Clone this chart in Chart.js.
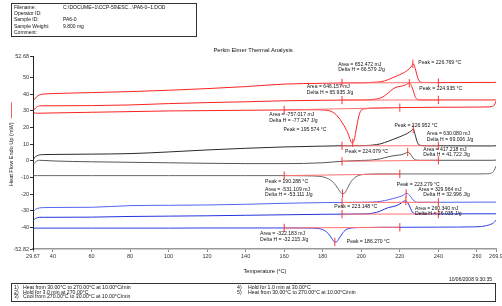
<!DOCTYPE html>
<html><head><meta charset="utf-8">
<script src="https://cdn.jsdelivr.net/npm/chart.js@4.4.1/dist/chart.umd.min.js"></script>
<style>html,body{margin:0;padding:0;background:#fff;}canvas{display:block;}</style>
</head><body>
<canvas id="c" width="502" height="306" style="width:502px;height:306px"></canvas>
<script>
// ---------- DATA ----------
const heatT = [30,31,33,35,40,60,80,100,120,140,160,180,190,200,205,208,210,212,214,216,218,220,221,222,223,224,225,226,227,228,229,230,232,235,240,260,268,270];
const coolT = [30,32,40,60,80,100,120,140,160,170,175,178,180,182,183,184,185,186,187,188,189,190,191,192,193,194,195,196,197,198,199,200,202,205,210,220,240,260,265,268,269,270];

// red run
const redHeat2 = [36.5,37.8,39.6,40.1,40.4,41.0,41.6,42.4,43.4,44.6,46.1,46.6,46.8,46.9,47.1,47.3,47.5,48.0,48.8,49.8,50.8,51.8,52.3,52.9,53.6,54.4,55.4,56.8,58.3,55.5,51.0,48.0,47.1,47.0,47.0,47.1,47.1,47.2];
const redHeat1 = [30.5,31.8,33.0,33.1,33.1,33.2,33.6,34.4,35.0,35.5,36.1,36.4,36.5,36.6,36.8,37.2,37.8,39.0,40.8,42.8,44.2,44.7,44.9,45.2,45.7,46.3,46.6,45.2,42.0,38.5,37.0,36.7,36.6,36.6,36.6,36.6,36.6,36.6];
const redCool  = [29.0,28.6,28.8,29.2,29.6,30.0,30.2,30.4,30.6,30.7,30.7,30.7,30.6,30.4,30.2,29.9,29.4,28.7,27.7,26.4,24.9,23.2,21.3,19.2,16.9,13.6,10.9,11.4,16.5,23.0,28.0,30.6,31.3,31.6,31.8,32.0,32.2,32.3,32.4,32.7,33.5,36.0];
// black run
const blackHeatA = [1.2,2.6,3.6,3.8,3.9,4.1,4.4,5.4,6.6,7.6,8.4,8.9,9.1,9.2,9.4,9.8,10.3,11.0,11.8,12.7,13.6,14.5,15.0,15.5,16.0,16.6,17.3,18.2,19.2,15.5,11.5,9.6,9.2,9.1,9.1,9.0,9.0,9.1];
const blackHeatB = [-1.8,-0.6,0.4,0.3,0.0,-0.5,-0.8,-1.1,-1.4,-1.6,-1.6,-1.1,-0.2,0.3,0.5,0.9,1.3,1.9,2.5,3.0,3.3,3.6,3.8,4.2,4.7,5.3,4.8,3.2,1.6,0.7,0.5,0.4,0.4,0.4,0.4,0.4,0.4,0.5];
const blackCool  = [-8.8,-8.8,-8.8,-8.8,-8.8,-8.8,-8.8,-8.8,-8.8,-8.9,-9.0,-9.2,-9.5,-10.2,-10.7,-11.4,-12.3,-13.5,-15.0,-16.7,-18.4,-19.6,-19.6,-18.2,-16.0,-13.8,-12.0,-10.7,-9.7,-9.0,-8.6,-8.3,-8.0,-7.9,-7.8,-7.8,-7.8,-7.8,-7.7,-7.0,-5.5,-3.0];
// blue run
const blueHeatA = [-30.2,-29.0,-28.2,-28.0,-27.9,-27.8,-26.8,-26.6,-26.4,-26.0,-25.4,-25.0,-24.9,-24.8,-24.7,-24.5,-24.2,-23.8,-23.3,-22.7,-22.1,-21.4,-21.0,-20.4,-19.6,-19.5,-20.6,-21.9,-23.5,-24.5,-24.8,-24.8,-24.8,-24.8,-24.8,-24.7,-24.7,-24.7];
const blueHeatB = [-35.5,-34.5,-33.8,-33.8,-33.8,-33.7,-33.3,-33.1,-32.9,-32.6,-32.3,-32.0,-31.9,-31.8,-31.5,-30.8,-30.0,-28.9,-28.0,-27.5,-26.9,-25.8,-25.0,-24.2,-23.9,-24.9,-27.0,-29.6,-31.2,-31.7,-31.8,-31.8,-31.8,-31.8,-31.8,-31.7,-31.7,-31.7];
const blueCool  = [-40.3,-40.3,-40.3,-40.3,-40.3,-40.3,-40.2,-40.2,-40.2,-40.2,-40.3,-40.6,-41.2,-42.6,-43.7,-45.2,-47.0,-48.5,-48.6,-47.3,-45.6,-43.8,-42.3,-41.3,-40.7,-40.4,-40.2,-40.1,-40.0,-40.0,-39.9,-39.9,-39.9,-39.9,-39.8,-39.8,-39.7,-39.5,-38.8,-37.6,-36.8,-35.4];

const heatLimits = [190, 240];
const coolLimits = [160, 220];
const peakTemps = [226.769, 224.935, 195.574, 226.952, 224.079, 190.288, 223.279, 223.148, 186.270];

const xTickValues = [29.67,40,60,80,100,120,140,160,180,200,220,240,260,269.9];
const xTickLabels = ["29.67","40","60","80","100","120","140","160","180","200","220","240","260","269.9"];
const yTickValues = [-52.82,-40,-30,-20,-10,0,10,20,30,40,50,62.96];
const yTickLabels = ["-52.82","-40","-30","-20","-10","0","10","20","30","40","50","52.68"];

// annotation texts [text, temperature, heat flow]
const notes = [
 ["Area = 652.472 mJ",188.0,58.0],["Delta H = 66.579 J/g",188.0,54.6],["Peak = 226.769 °C",229.6,58.9],
 ["Area = 646.157 mJ",171.7,44.5],["Delta H = 65.935 J/g",171.7,41.1],["Peak = 224.935 °C",230.1,43.6],
 ["Area = -757.017 mJ",152.3,27.6],["Delta H = -77.247 J/g",152.3,24.1],["Peak = 195.574 °C",159.6,18.6],
 ["Peak = 226.952 °C",217.2,21.0],["Area = 630.080 mJ",234.0,16.2],["Delta H = 69.006 J/g",234.0,12.6],
 ["Peak = 224.079 °C",191.6,5.5],["Area = 417.218 mJ",232.2,7.0],["Delta H = 41.722 J/g",232.2,3.6],
 ["Peak = 190.288 °C",150.1,-12.4],["Area = -531.109 mJ",150.1,-17.0],["Delta H = -53.111 J/g",150.1,-20.4],
 ["Peak = 223.279 °C",218.4,-14.4],["Area = 329.964 mJ",229.6,-17.0],["Delta H = 32.996 J/g",232.2,-20.4],
 ["Peak = 223.148 °C",186.0,-27.4],["Area = 260.340 mJ",227.9,-28.4],["Delta H = 26.035 J/g",227.9,-31.8],
 ["Area = -322.183 mJ",147.5,-43.4],["Delta H = -32.215 J/g",147.5,-47.0],["Peak = 186.270 °C",192.5,-48.4]
];

const headerLabels = ["Filename:","Operator ID:","Sample ID:","Sample Weight:","Comment:"];
const headerValues = ["C:\\DOCUME~1\\CCP-59\\ESC...\\PA6-0~1.DOD","","PA6-0","9.800 mg",""];
const methodLeft = [["1)","Heat from 30.00°C to 270.00°C at 10.00°C/min"],["2)","Hold for 3.0 min at 270.00°C"],["3)","Cool from 270.00°C to 30.00°C at 10.00°C/min"]];
const methodRight = [["4)","Hold for 1.0 min at 30.00°C"],["5)","Heat from 30.00°C to 270.00°C at 10.00°C/min"]];

// ---------- BUILD ----------
const RED = '#f22', MARK = '#f33', BASE = '#ff7070';
const curves = [
 {t:heatT, v:redHeat2, c:RED, lim:heatLimits, pk:peakTemps[0]},
 {t:heatT, v:redHeat1, c:RED, lim:heatLimits, pk:peakTemps[1]},
 {t:coolT, v:redCool, c:RED, lim:coolLimits, pk:peakTemps[2]},
 {t:heatT, v:blackHeatA, c:'#2a2a2a', lim:heatLimits, pk:peakTemps[3]},
 {t:heatT, v:blackHeatB, c:'#555', lim:heatLimits, pk:peakTemps[4]},
 {t:coolT, v:blackCool, c:'#6a6a6a', lim:coolLimits, pk:peakTemps[5]},
 {t:heatT, v:blueHeatA, c:'#5464f4', lim:heatLimits, pk:peakTemps[6]},
 {t:heatT, v:blueHeatB, c:'#2434dc', lim:heatLimits, pk:peakTemps[7]},
 {t:coolT, v:blueCool, c:'#3040e8', lim:coolLimits, pk:peakTemps[8]}
];
const datasets = [];
curves.forEach((cv, idx) => {
  const pts = cv.t.map((x,i)=>({x, y:cv.v[i]}));
  datasets.push({data:pts, borderColor:cv.c, borderWidth:1, pointRadius:0, cubicInterpolationMode:'monotone', order:3});
  const at = T => cv.v[cv.t.indexOf(T)];
  const a = cv.lim[0], b = cv.lim[1];
  datasets.push({data:[{x:a,y:at(a)},{x:b,y:at(b)}], borderColor:BASE, borderWidth:1, pointRadius:0, order:1});
  [a,b].forEach(T => datasets.push({data:[{x:T,y:at(T)-2.5},{x:T,y:at(T)+2.5}], borderColor:MARK, borderWidth:1, pointRadius:0, order:0}));
  const isCool = cv.t === coolT;
  const ext = isCool ? Math.min(...cv.v) : Math.max(...cv.v);
  datasets.push({data:[{x:cv.pk,y:ext-2.5},{x:cv.pk,y:ext+2.5}], borderColor:MARK, borderWidth:1, pointRadius:0, order:0});
});

const FONT = "'Liberation Sans', Arial, sans-serif";
const decor = {
  id:'decor',
  afterDraw(chart){
    const ctx = chart.ctx, xs = chart.scales.x, ys = chart.scales.y;
    ctx.save();
    ctx.fillStyle = '#111'; ctx.textBaseline = 'middle'; ctx.textAlign = 'left';
    // header box
    ctx.strokeStyle = '#333'; ctx.lineWidth = 1;
    ctx.strokeRect(11.5, 3.5, 185, 33);
    ctx.font = "5px " + FONT;
    headerLabels.forEach((s,i)=>{ ctx.fillText(s, 14, 7.5 + i*6.3); ctx.fillText(headerValues[i], 63, 7.5 + i*6.3); });
    // title
    ctx.textAlign = 'center'; ctx.font = "5.8px " + FONT;
    ctx.fillText("Perkin Elmer Thermal Analysis", 253, 50);
    // x title
    ctx.font = "5.6px " + FONT;
    ctx.fillText("Temperature (°C)", 265, 271);
    // y title
    ctx.save(); ctx.translate(11, 186); ctx.rotate(-Math.PI/2);
    ctx.textAlign = 'left'; ctx.font = "5.6px " + FONT;
    const yt = "Heat Flow Endo Up (mW)";
    ctx.fillText(yt, 0, 0);
    const w = ctx.measureText(yt).width;
    ctx.strokeStyle = '#f06060'; ctx.beginPath(); ctx.moveTo(w+4, 0.5); ctx.lineTo(w+20, 0.5); ctx.stroke();
    ctx.restore();
    // date
    ctx.textAlign = 'right'; ctx.font = "5px " + FONT;
    ctx.fillText("10/06/2008 9:30:35", 492, 279.5);
    // method box
    ctx.strokeStyle = '#333'; ctx.strokeRect(11.5, 283.5, 484, 18);
    ctx.textAlign = 'left'; ctx.font = "5.2px " + FONT;
    methodLeft.forEach((m,i)=>{ ctx.fillText(m[0], 14, 287.5 + i*4.7); ctx.fillText(m[1], 23, 287.5 + i*4.7); });
    methodRight.forEach((m,i)=>{ ctx.fillText(m[0], 237, 287.5 + i*4.7); ctx.fillText(m[1], 248, 287.5 + i*4.7); });
    // annotations
    ctx.font = "5.1px " + FONT; ctx.fillStyle = '#111';
    notes.forEach(n => ctx.fillText(n[0], xs.getPixelForValue(n[1]), ys.getPixelForValue(n[2])));
    ctx.restore();
  }
};

new Chart(document.getElementById('c'), {
  type:'line',
  data:{datasets},
  options:{
    responsive:false, devicePixelRatio:1, animation:false,
    layout:{padding:{left:0, right:6, top:56, bottom:45}},
    plugins:{legend:{display:false}, tooltip:{enabled:false}},
    scales:{
      x:{type:'linear', min:29.67, max:269.9,
        afterBuildTicks:s=>{ s.ticks = xTickValues.map(v=>({value:v})); },
        afterFit:s=>{ s.height = 12; s.paddingLeft = 0; s.paddingRight = 0; },
        ticks:{autoSkip:false, maxRotation:0, padding:1, color:'#333', font:{size:5.5, family:FONT}, callback:(v,i)=>xTickLabels[i]},
        grid:{drawOnChartArea:false, drawTicks:true, tickLength:3, color:'#888'},
        border:{display:true, color:'#999', width:1.5}
      },
      y:{type:'linear', min:-52.82, max:62.96,
        afterBuildTicks:s=>{ s.ticks = yTickValues.map(v=>({value:v})); },
        afterFit:s=>{ s.width = 33; s.paddingTop = 0; s.paddingBottom = 0; },
        ticks:{autoSkip:false, padding:1, color:'#333', font:{size:5.5, family:FONT}, callback:(v,i)=>yTickLabels[i]},
        grid:{drawOnChartArea:false, drawTicks:true, tickLength:3, color:'#333'},
        border:{display:true, color:'#222', width:1}
      }
    }
  },
  plugins:[decor]
});
</script></body></html>
